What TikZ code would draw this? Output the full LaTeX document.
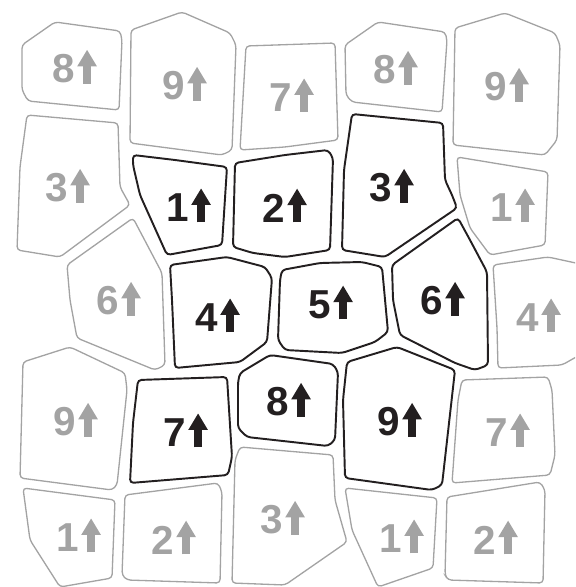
\documentclass[tikz,border=0pt]{standalone}
\usepackage{fontspec}
\setmainfont{Liberation Sans}
\usepackage{tikz}
\usetikzlibrary{arrows.meta}
\definecolor{TileGray}{HTML}{A3A3A3}
\definecolor{TileBlack}{HTML}{231F20}
\tikzset{
  graytile/.style={draw=TileGray, line width=0.75pt, rounded corners=2pt},
  blacktile/.style={draw=TileBlack, line width=1.1pt, rounded corners=2pt},
  graynum/.style={text=TileGray, font=\fontsize{23}{27}\selectfont\bfseries, inner sep=0pt},
  blacknum/.style={text=TileBlack, font=\fontsize{23}{27}\selectfont\bfseries, inner sep=0pt},
  grayarr/.style={draw=TileGray, line width=4.4pt, -{Triangle[width=10.5pt,length=9.5pt]}},
  blackarr/.style={draw=TileBlack, line width=4.4pt, -{Triangle[width=10.5pt,length=9.5pt]}}
}
% digit with its up arrow: name, position, gray/black, digit
\newcommand{\numup}[4]{%
  \node[#3num] (#1) at (#2) {#4};
  \draw[#3arr] ([xshift=0.23cm]#1.south east) -- ++(0cm,0.68cm);}

\begin{document}
\begin{tikzpicture}[x=0.02cm, y=-0.02cm]
\clip (0,0) rectangle (575,587);
% gray tiles, outer ring
\draw[graytile] (22,45) -- (55,22) -- (120,31) -- (122,40) -- (119,110) -- (28,101) -- (22,90) -- cycle;
\draw[graytile] (131,30) -- (182,12) -- (230,33) -- (236,45) -- (232,150) -- (222,155) -- (130,143) -- cycle;
\draw[graytile] (246,46) -- (335,43) -- (338,140) -- (285,147) -- (240,150) -- cycle;
\draw[graytile] (345,45) -- (378,22) -- (445,32) -- (447,40) -- (442,112) -- (352,102) -- (346,95) -- cycle;
\draw[graytile] (455,28) -- (505,13) -- (555,33) -- (560,45) -- (557,140) -- (545,155) -- (453,145) -- cycle;
\draw[graytile] (27,115) -- (118,123) -- (120,187) -- (130,205) -- (60,257) -- (17,250) -- (20,167) -- cycle;
\draw[graytile] (457,157) -- (548,172) -- (545,245) -- (490,255) -- (470,228) -- (460,195) -- cycle;
\draw[graytile] (67,265) -- (133,218) -- (162,273) -- (165,365) -- (155,370) -- (77,338) -- (70,300) -- cycle;
\draw[graytile] (493,265) -- (548,257) -- (585,265) -- (585,352) -- (562,365) -- (498,368) -- (497,328) -- cycle;
\draw[graytile] (23,362) -- (70,347) -- (125,373) -- (127,390) -- (117,485) -- (112,490) -- (20,478) -- cycle;
\draw[graytile] (462,380) -- (548,377) -- (552,390) -- (555,455) -- (550,475) -- (452,483) -- (458,400) -- cycle;
\draw[graytile] (23,488) -- (115,500) -- (112,578) -- (60,587) -- (30,540) -- cycle;
\draw[graytile] (125,495) -- (218,483) -- (222,492) -- (220,583) -- (127,580) -- (122,575) -- cycle;
\draw[graytile] (240,447) -- (333,455) -- (335,500) -- (347,542) -- (285,585) -- (232,583) -- (235,460) -- cycle;
\draw[graytile] (345,488) -- (437,498) -- (433,568) -- (378,587) -- (352,530) -- cycle;
\draw[graytile] (447,497) -- (540,482) -- (545,490) -- (543,583) -- (448,580) -- (445,575) -- cycle;
% black tiles, inner block
\draw[blacktile] (133,155) -- (175,160) -- (227,167) -- (222,245) -- (167,255) -- (140,195) -- (133,165) -- cycle;
\draw[blacktile] (235,163) -- (285,155) -- (328,150) -- (333,158) -- (330,250) -- (285,257) -- (253,253) -- (233,247) -- cycle;
\draw[blacktile] (352,114) -- (443,123) -- (445,180) -- (452,195) -- (457,208) -- (385,257) -- (342,250) -- (344,170) -- cycle;
\draw[blacktile] (170,265) -- (227,257) -- (265,267) -- (272,278) -- (267,342) -- (240,362) -- (175,368) -- (172,300) -- cycle;
\draw[blacktile] (282,270) -- (320,263) -- (362,262) -- (382,267) -- (388,332) -- (375,342) -- (342,353) -- (285,350) -- (278,340) -- (280,280) -- cycle;
\draw[blacktile] (392,265) -- (458,218) -- (470,240) -- (487,272) -- (488,365) -- (475,370) -- (455,363) -- (400,335) -- (393,300) -- cycle;
\draw[blacktile] (138,380) -- (227,377) -- (232,457) -- (228,475) -- (130,483) -- (133,423) -- cycle;
\draw[blacktile] (240,373) -- (270,355) -- (333,364) -- (338,372) -- (335,440) -- (328,446) -- (247,437) -- (238,428) -- (238,382) -- cycle;
\draw[blacktile] (347,362) -- (397,347) -- (455,370) -- (442,485) -- (432,490) -- (345,478) -- (343,400) -- cycle;
% labels
\numup{g8a}{64,69}{gray}{8}
\numup{g9a}{174,86}{gray}{9}
\numup{g7a}{281,98}{gray}{7}
\numup{g8b}{385,70}{gray}{8}
\numup{g9b}{496,87}{gray}{9}
\numup{g3a}{57,188}{gray}{3}
\numup{b1}{178,208}{black}{1}
\numup{b2}{274,208}{black}{2}
\numup{b3}{381,188}{black}{3}
\numup{g1a}{502,208}{gray}{1}
\numup{g6a}{108,301}{gray}{6}
\numup{b4}{207,318}{black}{4}
\numup{b5}{320,305}{black}{5}
\numup{b6}{432,301}{black}{6}
\numup{g4a}{528,318}{gray}{4}
\numup{g9c}{65,422}{gray}{9}
\numup{b7}{175,433}{black}{7}
\numup{b8}{278,402}{black}{8}
\numup{b9}{389,422}{black}{9}
\numup{g7b}{497,433}{gray}{7}
\numup{g1b}{68,538}{gray}{1}
\numup{g2a}{163,540}{gray}{2}
\numup{g3b}{272,520}{gray}{3}
\numup{g1c}{391,539}{gray}{1}
\numup{g2b}{485,540}{gray}{2}
\end{tikzpicture}
\end{document}
